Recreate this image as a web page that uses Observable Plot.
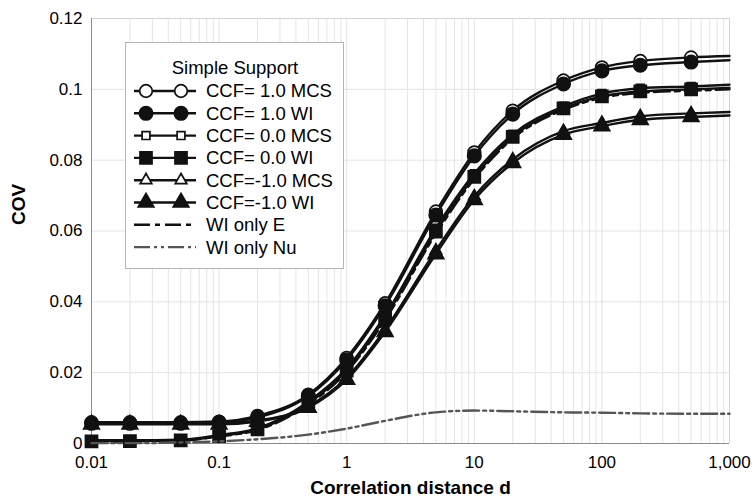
<!DOCTYPE html>
<html><head><meta charset="utf-8">
<script src="https://cdn.jsdelivr.net/npm/d3@7"></script>
<script src="https://cdn.jsdelivr.net/npm/@observablehq/plot@0.6"></script>
<style>
body{margin:0;background:#fff;}
#wrap{position:relative;width:755px;height:502px;font-family:"Liberation Sans",Arial,sans-serif;}
#legend{position:absolute;left:125px;top:42px;width:217px;height:225px;background:#fff;border:1px solid #b4b4b4;}
</style></head><body><div id="wrap"><div id="chart"></div><div id="legend"></div></div>
<script>
// ---- data ----
const distance = [0.01,0.02,0.05,0.1,0.2,0.5,1,2,5,10,20,50,100,200,500,1000];
const ccf1MCS  = [0.0060,0.0060,0.0060,0.0062,0.0078,0.0138,0.0242,0.0396,0.0655,0.0822,0.0940,0.1025,0.1062,0.1080,0.1090,0.1094];
const ccf1WI   = [0.0057,0.0057,0.0057,0.0059,0.0074,0.0134,0.0236,0.0389,0.0645,0.0812,0.0930,0.1015,0.1052,0.1068,0.1077,0.1082];
const ccf0MCS  = [0.0009,0.0009,0.0011,0.0024,0.0043,0.0118,0.0212,0.0362,0.0608,0.0762,0.0873,0.0952,0.0988,0.1003,0.1008,0.1013];
const ccf0WI   = [0.0006,0.0007,0.0009,0.0021,0.0040,0.0113,0.0206,0.0355,0.0598,0.0753,0.0866,0.0946,0.0980,0.0994,0.1000,0.1004];
const ccfm1MCS = [0.0057,0.0057,0.0057,0.0057,0.0065,0.0105,0.0186,0.0322,0.0545,0.0698,0.0802,0.0882,0.0905,0.0924,0.0932,0.0936];
const ccfm1WI  = [0.0054,0.0054,0.0054,0.0054,0.0062,0.0101,0.0180,0.0315,0.0535,0.0688,0.0792,0.0872,0.0896,0.0914,0.0922,0.0926];
const wiOnlyE  = [0.0005,0.0006,0.0008,0.0020,0.0038,0.0110,0.0202,0.0349,0.0592,0.0747,0.0861,0.0942,0.0976,0.0990,0.0996,0.1000];
const wiOnlyNu = [0.0001,0.0001,0.0003,0.0006,0.0012,0.0025,0.0042,0.0064,0.0088,0.0093,0.0091,0.0088,0.0087,0.0085,0.0084,0.0084];
const seriesNames = ["CCF= 1.0 MCS","CCF= 1.0 WI","CCF= 0.0 MCS","CCF= 0.0 WI","CCF=-1.0 MCS","CCF=-1.0 WI","WI only E","WI only Nu"];
const seriesValues = [ccf1MCS, ccf1WI, ccf0MCS, ccf0WI, ccfm1MCS, ccfm1WI, wiOnlyE, wiOnlyNu];
const legendTitle = "Simple Support";
const xTicks = [0.01,0.1,1,10,100,1000];
const yTicks = [0,0.02,0.04,0.06,0.08,0.1,0.12];
const xTitle = "Correlation distance d";
const yTitle = "COV";

// ---- styles ----
const styles = [
  {symbol:"circle",   fill:"white", r:6.3, stroke:"#111", dash:null},
  {symbol:"circle",   fill:"#111",  r:6.7, stroke:"#111", dash:null},
  {symbol:"square",   fill:"white", r:4.4, stroke:"#111", dash:null},
  {symbol:"square",   fill:"#111",  r:6.8, stroke:"#111", dash:null},
  {symbol:"triangle", fill:"white", r:4.3, stroke:"#111", dash:null},
  {symbol:"triangle", fill:"#111",  r:5.8, stroke:"#111", dash:null},
  {symbol:null, stroke:"#111", dash:"16,5,5,5"},
  {symbol:null, stroke:"#555", dash:"16,4,3,4,3,4"}
];

const xGrid = [];
for (let e = -2; e < 3; e++) for (let k = 2; k <= 9; k++) xGrid.push(k * Math.pow(10, e));
const decades = xTicks;

const marks = [
  Plot.ruleX(xGrid, {stroke:"#e4e4e4", strokeWidth:1}),
  Plot.ruleX(decades.slice(1,-1), {stroke:"#e4e4e4", strokeWidth:1}),
  Plot.ruleY(yTicks.slice(1,-1), {stroke:"#e4e4e4", strokeWidth:1}),
  Plot.ruleX([distance[distance.length-1]], {stroke:"#d4d4d4"}),
  Plot.ruleY([yTicks[yTicks.length-1]], {stroke:"#d4d4d4"}),
  Plot.ruleX([distance[0]], {stroke:"#8a8a8a"}),
  Plot.ruleY([0], {stroke:"#8a8a8a"}),
  Plot.axisX(xTicks, {tickSize:0, tickPadding:12, fontSize:17, tickFormat:d3.format(","), fill:"#000", label:null}),
  Plot.axisY(yTicks, {tickSize:0, tickPadding:9, fontSize:17, tickFormat:d => String(d), fill:"#000", label:null}),
  Plot.text([xTitle], {frameAnchor:"bottom", lineAnchor:"middle", dy:44, fontSize:19, fontWeight:"bold", fill:"#000"}),
  Plot.text([yTitle], {frameAnchor:"left", rotate:-90, dx:-73, dy:-6, fontSize:19, fontWeight:"bold", fill:"#000"})
];

seriesValues.forEach((vals, i) => {
  const st = styles[i];
  const rows = distance.map((d, j) => ({d, v: vals[j]}));
  marks.push(Plot.line(rows, {x:"d", y:"v", stroke:st.stroke, strokeWidth:2.4, strokeDasharray:st.dash, curve:"monotone-x"}));
  if (st.symbol) {
    marks.push(Plot.dot(rows.filter(r => r.d < 1000), {x:"d", y:"v", symbol:() => st.symbol, r:st.r, fill:st.fill, stroke:st.stroke, strokeWidth:1.7}));
  }
});

const chart = Plot.plot({
  width:755, height:502,
  marginLeft:91, marginRight:26, marginTop:18, marginBottom:59,
  x:{type:"log", domain:[0.01,1000], label:null},
  y:{domain:[0,0.12], label:null},
  style:{fontFamily:'"Liberation Sans",Arial,sans-serif', background:"#fff", color:"#000"},
  marks
});
document.getElementById("chart").appendChild(chart);

// ---- legend ----
const lg = d3.select("#legend").append("svg").attr("width",217).attr("height",225)
  .style("font-family",'"Liberation Sans",Arial,sans-serif');
lg.append("text").attr("x",109).attr("y",25).attr("dy","0.35em").attr("text-anchor","middle")
  .attr("font-size",18.5).attr("fill","#000").text(legendTitle);
const symMap = {circle:d3.symbolCircle, square:d3.symbolSquare, triangle:d3.symbolTriangle};
seriesNames.forEach((name, i) => {
  const st = styles[i];
  const y = 48 + i * 22.3;
  lg.append("line").attr("x1",8).attr("x2",70).attr("y1",y).attr("y2",y)
    .attr("stroke",st.stroke).attr("stroke-width",2.4).attr("stroke-dasharray",st.dash);
  if (st.symbol) {
    [20,55].forEach(x => {
      lg.append("path").attr("transform",`translate(${x},${y})`)
        .attr("d", d3.symbol(symMap[st.symbol], Math.PI*st.r*st.r)())
        .attr("fill",st.fill).attr("stroke",st.stroke).attr("stroke-width",1.7);
    });
  }
  lg.append("text").attr("x",80).attr("y",y).attr("dy","0.35em").attr("font-size",18.5)
    .attr("fill","#000").text(name);
});
</script></body></html>
